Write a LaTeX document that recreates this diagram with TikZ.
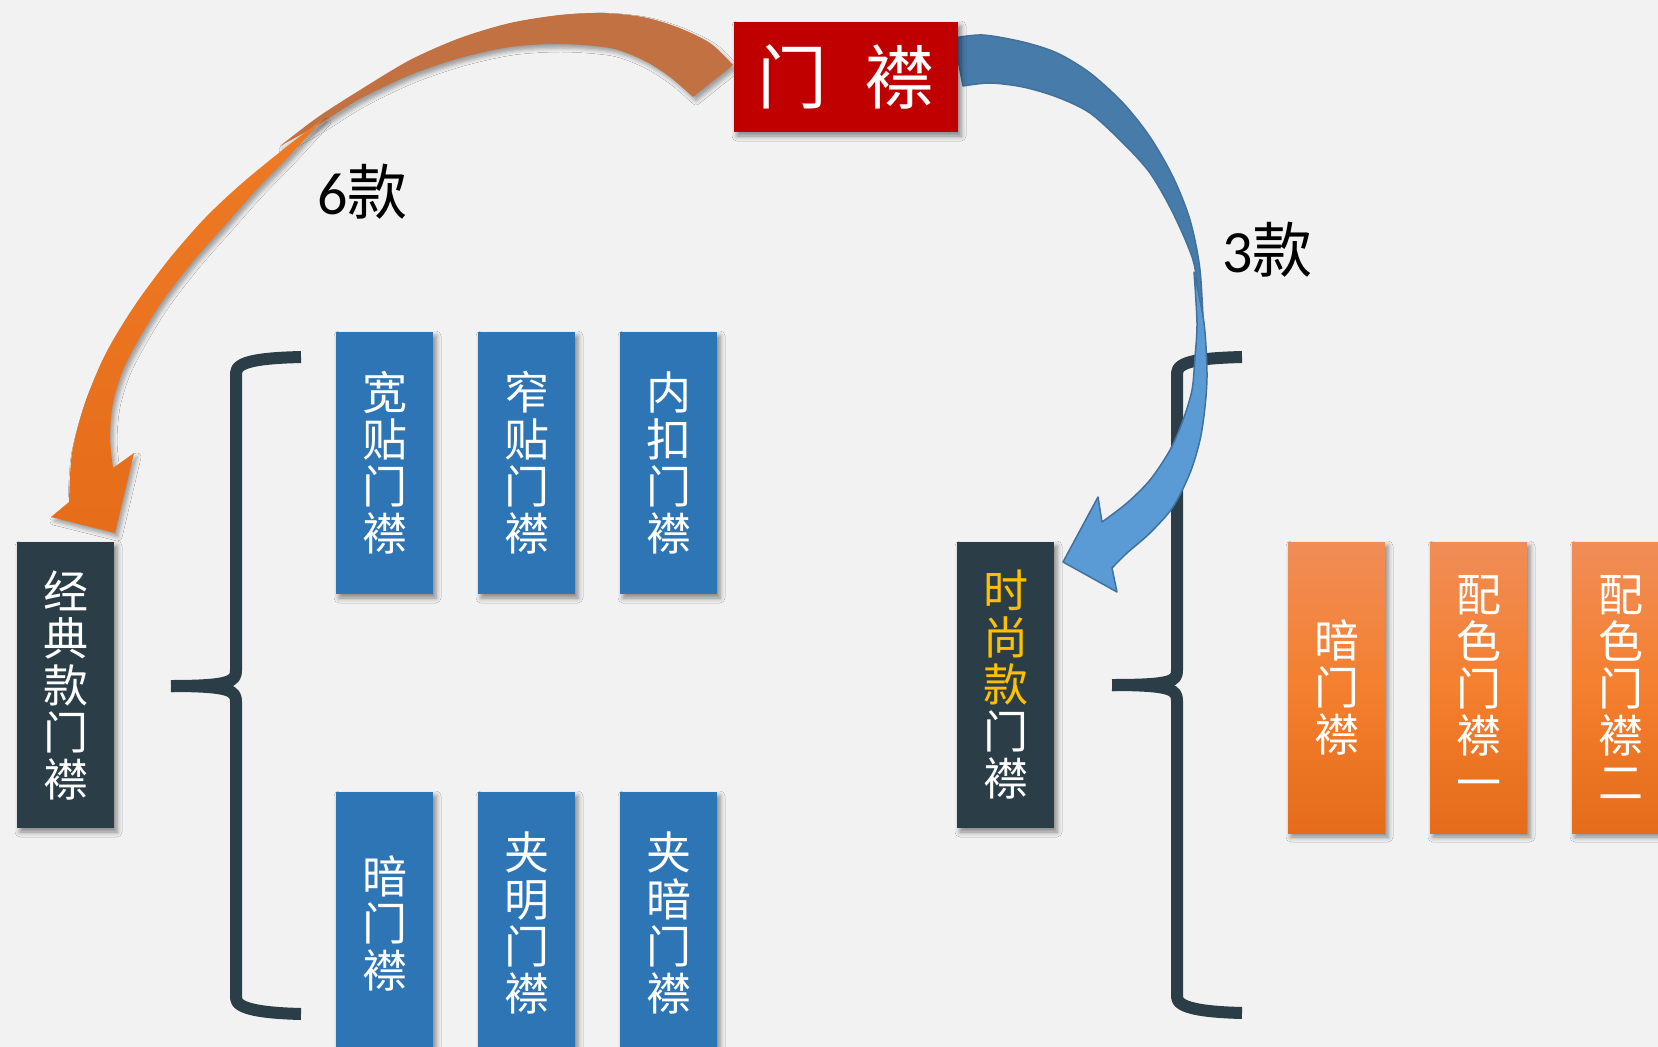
\documentclass[tikz,border=0pt]{standalone}
\usepackage{fontspec}
\usetikzlibrary{shadows.blur}
\newfontfamily\cjk{Noto Sans CJK SC}
\newfontfamily\calfont{Carlito}
\definecolor{bg}{HTML}{F2F2F2}
\definecolor{slate}{HTML}{2B3E47}
\definecolor{boxblue}{HTML}{2E75B6}
\definecolor{boxred}{HTML}{C00000}
\definecolor{gold}{HTML}{FFC000}
\definecolor{orTop}{HTML}{F08D57}
\definecolor{orMid}{HTML}{F47F2E}
\definecolor{orBot}{HTML}{E46C1A}
\definecolor{arrOrUp}{HTML}{C27142}
\definecolor{arrOrA}{HTML}{EE7A24}
\definecolor{arrOrB}{HTML}{E66D1A}
\definecolor{arrBlUp}{HTML}{477BAA}
\definecolor{arrBlLo}{HTML}{5B9BD5}
\definecolor{arrBlEdge}{HTML}{41719C}
\tikzset{
  boxshadow/.style={blur shadow={shadow xshift=3pt, shadow yshift=-4pt, shadow opacity=45, shadow blur radius=5pt}},
  vbox/.style={boxshadow, minimum width=97pt, inner sep=0pt, text=white, align=center,
    font=\cjk\fontsize{45}{47}\selectfont},
  darkbox/.style={vbox, fill=slate, minimum height=286pt},
  bluebox/.style={vbox, fill=boxblue, minimum height=262pt},
  orangebox/.style={vbox, top color=orTop, bottom color=orBot, middle color=orMid, minimum height=291pt},
  redbox/.style={boxshadow, fill=boxred, minimum width=224pt, minimum height=110pt, inner sep=0pt,
    text=white, font=\cjk\fontsize{70}{80}\selectfont},
  brace/.style={draw=slate, line width=12pt, line join=round},
  countlabel/.style={anchor=base west, inner sep=0pt, text=black},
  arrowshadow/.style={blur shadow={shadow xshift=3pt, shadow yshift=-4pt, shadow opacity=35, shadow blur radius=4pt}},
}
\begin{document}
\begin{tikzpicture}[x=1pt,y=-1pt]
\useasboundingbox (0,0) rectangle (1658,1047);
\fill[bg] (0,0) rectangle (1658,1047);

% braces
\draw[brace] (301,357) .. controls (262,358) and (236,361) .. (236,373) -- (236,670)
  .. controls (236,681) and (232,686) .. (171,686);
\draw[brace] (171,686) .. controls (232,686) and (236,691) .. (236,702) -- (236,998)
  .. controls (236,1009) and (262,1013) .. (301,1014);
\draw[brace] (1242,357) .. controls (1203,358) and (1177,361) .. (1177,373) -- (1177,670)
  .. controls (1177,681) and (1173,685) .. (1112,685);
\draw[brace] (1112,685) .. controls (1173,685) and (1177,690) .. (1177,701) -- (1177,997)
  .. controls (1177,1008) and (1203,1012) .. (1242,1013);

% left group
\node[darkbox] (classic) at (65.5,685) {经\\典\\款\\门\\襟};
\node[bluebox] (kuantie) at (384.5,463) {宽\\贴\\门\\襟};
\node[bluebox] (zhaitie) at (526.5,463) {窄\\贴\\门\\襟};
\node[bluebox] (neikou) at (668.5,463) {内\\扣\\门\\襟};
\node[bluebox] (an) at (384.5,923) {暗\\门\\襟};
\node[bluebox] (jiaming) at (526.5,923) {夹\\明\\门\\襟};
\node[bluebox] (jiaan) at (668.5,923) {夹\\暗\\门\\襟};

% right group
\node[darkbox] (fashion) at (1005.5,685) {\textcolor{gold}{时}\\\textcolor{gold}{尚}\\\textcolor{gold}{款}\\门\\襟};
\node[orangebox] (an2) at (1336.5,687.5) {暗\\门\\襟};
\node[orangebox] (peise1) at (1478.5,687.5) {配\\色\\门\\襟\\一};
\node[orangebox] (peise2) at (1620.5,687.5) {配\\色\\门\\襟\\二};

% orange curved arrow (upper band)
\path[arrowshadow, fill=arrOrUp]
  plot[smooth] coordinates {(733,65) (710,43) (677,27) (643,17) (603,13) (560,15) (510,23) (460,38) (410,60) (360,90) (318,117) (280,146)}
  -- plot[smooth] coordinates {(280,146) (318,125) (360,99) (410,75) (460,58) (510,47) (560,44) (610,48) (643,60) (670,77) (693,97)}
  -- cycle;
% orange curved arrow (lower band with head)
\path[arrowshadow, top color=arrOrA, bottom color=arrOrB]
  plot[smooth] coordinates {(324,118) (280,152) (240,185) (205,218) (170,258) (135,305) (106,353) (85,403) (72,453) (69,502)}
  -- (51,517) -- (115,533) -- (134,453) -- (113,468)
  -- plot[smooth] coordinates {(113,468) (110,437) (113,403) (123,370) (140,337) (163,300) (194,260) (225,225) (256,190) (290,155) (324,118)}
  -- cycle;

% blue curved arrow (upper band)
\path[fill=arrBlUp, draw=arrBlEdge, line width=1.5pt, line join=round]
  plot[smooth] coordinates {(954,38) (983,35) (1023,42) (1057,53) (1090,73) (1123,103) (1150,137) (1173,177) (1190,220) (1200,270) (1204,340)}
  -- plot[smooth] coordinates {(1204,340) (1199,300) (1193,260) (1173,213) (1150,173) (1123,143) (1090,113) (1057,97) (1023,87) (990,83) (963,86)}
  -- cycle;
% blue curved arrow (lower band with head)
\path[fill=arrBlLo, draw=arrBlEdge, line width=1.5pt, line join=round]
  plot[smooth] coordinates {(1194,272) (1197,323) (1195,357) (1192,390) (1183,420) (1170,450) (1150,480) (1127,503) (1102,522)}
  -- (1098,497) -- (1063,562) -- (1117,592) -- (1112,568)
  -- plot[smooth] coordinates {(1112,568) (1127,553) (1150,533) (1173,507) (1190,473) (1200,440) (1205,407) (1207,373) (1204,323) (1194,272)}
  -- cycle;

% top box
\node[redbox] (top) at (846,77) {门\hspace{38pt}襟};

% counts
\node[countlabel, font=\fontsize{60}{70}\selectfont] (six) at (317,214) {\calfont 6\cjk 款};
\node[countlabel, font=\fontsize{60}{70}\selectfont] (three) at (1222,272) {\calfont 3\cjk 款};
\end{tikzpicture}
\end{document}
